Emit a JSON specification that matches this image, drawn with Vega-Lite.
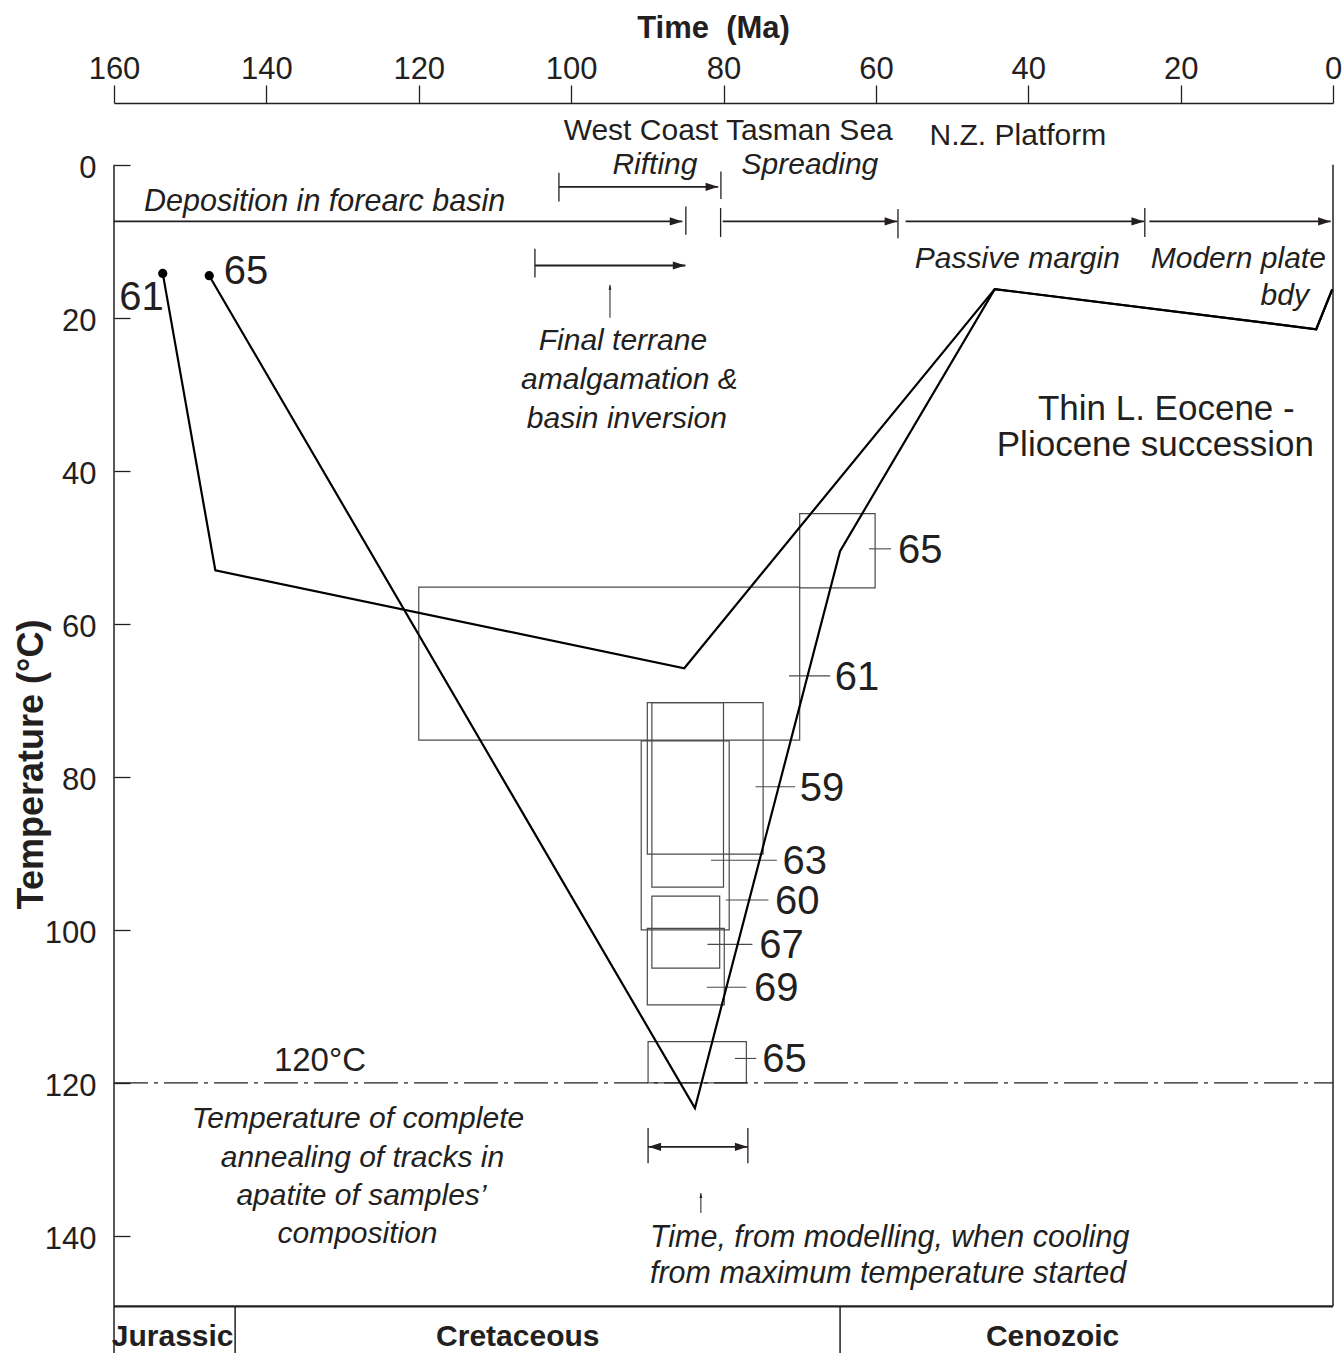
{
 "$schema": "https://vega.github.io/schema/vega-lite/v6.json",
 "width": 1219,
 "height": 1250,
 "autosize": {"type": "none"},
 "padding": {"left": 114, "top": 103, "right": 9, "bottom": 0},
 "background": "white",
 "config": {"view": {"stroke": null}, "axis": {"grid": false}},
 "datasets": {
  "boxes": [
   {"id": "65a", "t1": 70, "t2": 60.1, "T1": 45.6, "T2": 55.3},
   {"id": "61", "t1": 120, "t2": 70, "T1": 55.2, "T2": 75.2},
   {"id": "59", "t1": 90, "t2": 74.8, "T1": 70.3, "T2": 90.1},
   {"id": "63", "t1": 89.4, "t2": 80, "T1": 70.3, "T2": 94.4},
   {"id": "60", "t1": 90.8, "t2": 79.25, "T1": 75.3, "T2": 100},
   {"id": "67", "t1": 89.4, "t2": 80.5, "T1": 95.6, "T2": 105},
   {"id": "69", "t1": 90, "t2": 79.9, "T1": 99.8, "T2": 109.8},
   {"id": "65b", "t1": 89.9, "t2": 77, "T1": 114.6, "T2": 120}
  ],
  "leaders": [
   {"t1": 60.9, "t2": 58.0, "T": 50.2},
   {"t1": 71.4, "t2": 66.0, "T": 66.8},
   {"t1": 75.8, "t2": 70.6, "T": 81.3},
   {"t1": 81.65, "t2": 73.0, "T": 90.9},
   {"t1": 79.7, "t2": 74.1, "T": 96.1},
   {"t1": 82.1, "t2": 76.2, "T": 101.9},
   {"t1": 82.2, "t2": 77.0, "T": 107.5},
   {"t1": 78.5, "t2": 75.7, "T": 116.8}
  ],
  "boxlabels": [
   {"label": "65", "t": 57.1, "T": 50.2},
   {"label": "61", "t": 65.4, "T": 66.8},
   {"label": "59", "t": 70.0, "T": 81.3},
   {"label": "63", "t": 72.25, "T": 90.9},
   {"label": "60", "t": 73.25, "T": 96.1},
   {"label": "67", "t": 75.3, "T": 101.9},
   {"label": "69", "t": 76.0, "T": 107.5},
   {"label": "65", "t": 74.9, "T": 116.8},
   {"label": "61", "t": 159.3, "T": 17.1},
   {"label": "65", "t": 145.6, "T": 13.7}
  ],
  "paths": [
   {"s": "61", "o": 1, "t": 153.6, "T": 14.2},
   {"s": "61", "o": 2, "t": 146.7, "T": 53.0},
   {"s": "61", "o": 3, "t": 85.15, "T": 65.8},
   {"s": "61", "o": 4, "t": 44.4, "T": 16.25},
   {"s": "61", "o": 5, "t": 2.2, "T": 21.5},
   {"s": "61", "o": 6, "t": 0.1, "T": 16.3},
   {"s": "65", "o": 1, "t": 147.5, "T": 14.5},
   {"s": "65", "o": 2, "t": 83.75, "T": 123.3},
   {"s": "65", "o": 3, "t": 64.7, "T": 50.5},
   {"s": "65", "o": 4, "t": 44.4, "T": 16.25},
   {"s": "65", "o": 5, "t": 2.2, "T": 21.5},
   {"s": "65", "o": 6, "t": 0.1, "T": 16.3}
  ],
  "dots": [
   {"t": 153.6, "T": 14.2},
   {"t": 147.5, "T": 14.5}
  ],
  "hlines": [
   {"t1": 160, "t2": 85.4, "T": 7.41},
   {"t1": 80.1, "t2": 57.2, "T": 7.41},
   {"t1": 56.1, "t2": 24.8, "T": 7.41},
   {"t1": 24.1, "t2": 0.3, "T": 7.41},
   {"t1": 101.6, "t2": 80.7, "T": 2.88},
   {"t1": 104.75, "t2": 85.0, "T": 13.17},
   {"t1": 89.9, "t2": 76.8, "T": 128.35}
  ],
  "heads": [
   {"t": 85.4, "T": 7.41, "d": "r"},
   {"t": 57.2, "T": 7.41, "d": "r"},
   {"t": 24.8, "T": 7.41, "d": "r"},
   {"t": 0.3, "T": 7.41, "d": "r"},
   {"t": 80.7, "T": 2.88, "d": "r"},
   {"t": 85.0, "T": 13.17, "d": "r"},
   {"t": 89.85, "T": 128.35, "d": "l"},
   {"t": 76.85, "T": 128.35, "d": "r"}
  ],
  "bars": [
   {"t": 84.94, "T1": 5.45, "T2": 9.15},
   {"t": 80.38, "T1": 5.66, "T2": 9.45},
   {"t": 57.1, "T1": 5.8, "T2": 9.6},
   {"t": 24.7, "T1": 5.66, "T2": 9.45},
   {"t": 101.6, "T1": 1.05, "T2": 4.8},
   {"t": 80.34, "T1": 0.88, "T2": 4.48},
   {"t": 104.75, "T1": 10.98, "T2": 14.74},
   {"t": 89.9, "T1": 125.9, "T2": 130.5},
   {"t": 76.8, "T1": 125.9, "T2": 130.5}
  ],
  "uplines": [
   {"t": 94.9, "T1": 15.7, "T2": 20.0},
   {"t": 82.97, "T1": 134.4, "T2": 137.0}
  ],
  "frameV": [
   {"t": 160, "T1": 0, "T2": 155.3},
   {"t": 0, "T1": 0, "T2": 149.2},
   {"t": 144.1, "T1": 149.2, "T2": 155.3},
   {"t": 64.7, "T1": 149.2, "T2": 155.3}
  ],
  "txtA": [
   {"text": "West Coast", "t": 90.84, "T": -3.27},
   {"text": "Tasman Sea", "t": 68.73, "T": -3.27},
   {"text": "N.Z. Platform", "t": 41.36, "T": -2.52}
  ],
  "txtB": [
   {"text": "Rifting", "t": 89.0, "T": 1.18},
   {"text": "Spreading", "t": 68.66, "T": 1.18}
  ],
  "txtC": [
   {"text": "Deposition in forearc basin", "t": 156.06, "T": 6.1},
   {"text": "Time, from modelling, when cooling", "t": 89.66, "T": 141.4},
   {"text": "from maximum temperature started", "t": 89.66, "T": 146.2}
  ],
  "txtD": [
   {"text": "Passive margin", "t": 41.43, "T": 13.5},
   {"text": "Modern plate", "t": 12.43, "T": 13.5},
   {"text": "bdy", "t": 6.33, "T": 18.3},
   {"text": "Final terrane", "t": 93.2, "T": 24.19},
   {"text": "amalgamation &", "t": 92.35, "T": 29.29},
   {"text": "basin inversion", "t": 92.68, "T": 34.39},
   {"text": "Temperature of complete", "t": 127.98, "T": 125.9},
   {"text": "annealing of tracks in", "t": 127.39, "T": 131.0},
   {"text": "apatite of samples’", "t": 127.52, "T": 136.0},
   {"text": "composition", "t": 128.04, "T": 140.95}
  ],
  "txtE": [
   {"text": "Thin L. Eocene -", "t": 21.88, "T": 33.41},
   {"text": "Pliocene succession", "t": 23.32, "T": 38.05}
  ],
  "txtF": [
   {"text": "120°C", "t": 132.97, "T": 118.4}
  ],
  "txtH": [
   {"text": "Jurassic", "t": 152.3, "T": 154.4},
   {"text": "Cretaceous", "t": 107, "T": 154.4},
   {"text": "Cenozoic", "t": 36.8, "T": 154.4}
  ]
 },
 "layer": [
  {
   "data": {"name": "boxes"},
   "mark": {"type": "rect", "fillOpacity": 0, "stroke": "#4a4a4a", "strokeWidth": 1.2},
   "encoding": {
    "x": {"field": "t1", "type": "quantitative", "scale": {"domain": [0, 160], "reverse": true, "nice": false, "zero": false},
     "axis": {"orient": "top", "values": [160, 140, 120, 100, 80, 60, 40, 20, 0], "format": "d",
      "title": "Time \u00a0(Ma)", "titleFont": "Liberation Sans", "titleFontSize": 31, "titleFontWeight": "bold", "titleColor": "#231f20",
      "titleX": 599, "titleY": -66, "titleAlign": "center", "titleBaseline": "alphabetic", "titleAngle": 0,
      "labelFont": "Liberation Sans", "labelFontSize": 31, "labelColor": "#231f20", "labelFlush": false, "labelOverlap": false,
      "labelBaseline": "alphabetic", "labelPadding": 7, "tickSize": 18, "tickColor": "#231f20", "tickWidth": 1.3,
      "domain": true, "domainColor": "#231f20", "domainWidth": 1.5, "grid": false}},
    "x2": {"field": "t2"},
    "y": {"field": "T1", "type": "quantitative", "scale": {"domain": [-8.07, 155.3], "reverse": true, "nice": false, "zero": false},
     "axis": {"orient": "left", "values": [0, 20, 40, 60, 80, 100, 120, 140], "format": "d",
      "title": "Temperature (°C)", "titleFont": "Liberation Sans", "titleFontSize": 36, "titleFontWeight": "bold", "titleColor": "#231f20",
      "titleX": -72, "titleY": 661, "titleAngle": -90, "titleAlign": "center", "titleBaseline": "alphabetic",
      "labelFont": "Liberation Sans", "labelFontSize": 31, "labelColor": "#231f20", "labelFlush": false, "labelOverlap": false,
      "labelBaseline": "middle", "labelOffset": 4, "labelPadding": 34, "tickSize": -16, "tickColor": "#231f20", "tickWidth": 1.3,
      "domain": false, "grid": false}},
    "y2": {"field": "T2"}
   }
  },
  {
   "data": {"name": "leaders"},
   "mark": {"type": "rule", "stroke": "#4a4a4a", "strokeWidth": 1.1},
   "encoding": {
    "x": {"field": "t1", "type": "quantitative", "scale": {"domain": [0, 160], "reverse": true, "nice": false, "zero": false}},
    "x2": {"field": "t2"},
    "y": {"field": "T", "type": "quantitative", "scale": {"domain": [-8.07, 155.3], "reverse": true, "nice": false, "zero": false}}
   }
  },
  {
   "data": {"values": [{"t1": 160, "t2": 0, "T": 120}]},
   "mark": {"type": "rule", "stroke": "#231f20", "strokeWidth": 1.4, "strokeDash": [34, 6, 4, 6]},
   "encoding": {
    "x": {"field": "t1", "type": "quantitative", "scale": {"domain": [0, 160], "reverse": true, "nice": false, "zero": false}},
    "x2": {"field": "t2"},
    "y": {"field": "T", "type": "quantitative", "scale": {"domain": [-8.07, 155.3], "reverse": true, "nice": false, "zero": false}}
   }
  },
  {
   "data": {"name": "frameV"},
   "mark": {"type": "rule", "stroke": "#231f20", "strokeWidth": 1.5},
   "encoding": {
    "x": {"field": "t", "type": "quantitative", "scale": {"domain": [0, 160], "reverse": true, "nice": false, "zero": false}},
    "y": {"field": "T1", "type": "quantitative", "scale": {"domain": [-8.07, 155.3], "reverse": true, "nice": false, "zero": false}},
    "y2": {"field": "T2"}
   }
  },
  {
   "data": {"values": [{"t1": 160, "t2": 0, "T": 149.2}]},
   "mark": {"type": "rule", "stroke": "#231f20", "strokeWidth": 2.2},
   "encoding": {
    "x": {"field": "t1", "type": "quantitative", "scale": {"domain": [0, 160], "reverse": true, "nice": false, "zero": false}},
    "x2": {"field": "t2"},
    "y": {"field": "T", "type": "quantitative", "scale": {"domain": [-8.07, 155.3], "reverse": true, "nice": false, "zero": false}}
   }
  },
  {
   "data": {"name": "paths"},
   "mark": {"type": "line", "color": "#000000", "strokeWidth": 2.2, "strokeJoin": "miter"},
   "encoding": {
    "x": {"field": "t", "type": "quantitative", "scale": {"domain": [0, 160], "reverse": true, "nice": false, "zero": false}},
    "y": {"field": "T", "type": "quantitative", "scale": {"domain": [-8.07, 155.3], "reverse": true, "nice": false, "zero": false}},
    "detail": {"field": "s", "type": "nominal"},
    "order": {"field": "o", "type": "quantitative"}
   }
  },
  {
   "data": {"name": "dots"},
   "mark": {"type": "point", "shape": "circle", "filled": true, "color": "#000000", "opacity": 1, "size": 85},
   "encoding": {
    "x": {"field": "t", "type": "quantitative", "scale": {"domain": [0, 160], "reverse": true, "nice": false, "zero": false}},
    "y": {"field": "T", "type": "quantitative", "scale": {"domain": [-8.07, 155.3], "reverse": true, "nice": false, "zero": false}}
   }
  },
  {
   "data": {"name": "hlines"},
   "mark": {"type": "rule", "stroke": "#231f20", "strokeWidth": 1.8},
   "encoding": {
    "x": {"field": "t1", "type": "quantitative", "scale": {"domain": [0, 160], "reverse": true, "nice": false, "zero": false}},
    "x2": {"field": "t2"},
    "y": {"field": "T", "type": "quantitative", "scale": {"domain": [-8.07, 155.3], "reverse": true, "nice": false, "zero": false}}
   }
  },
  {
   "data": {"name": "bars"},
   "mark": {"type": "rule", "stroke": "#231f20", "strokeWidth": 1.3},
   "encoding": {
    "x": {"field": "t", "type": "quantitative", "scale": {"domain": [0, 160], "reverse": true, "nice": false, "zero": false}},
    "y": {"field": "T1", "type": "quantitative", "scale": {"domain": [-8.07, 155.3], "reverse": true, "nice": false, "zero": false}},
    "y2": {"field": "T2"}
   }
  },
  {
   "data": {"name": "heads"},
   "mark": {"type": "point", "filled": true, "color": "#231f20", "opacity": 1, "size": 159, "strokeWidth": 0},
   "encoding": {
    "x": {"field": "t", "type": "quantitative", "scale": {"domain": [0, 160], "reverse": true, "nice": false, "zero": false}},
    "y": {"field": "T", "type": "quantitative", "scale": {"domain": [-8.07, 155.3], "reverse": true, "nice": false, "zero": false}},
    "shape": {"field": "d", "type": "nominal", "scale": {"domain": ["r", "l"], "range": ["M0,0L-2,-0.65L-2,0.65Z", "M0,0L2,-0.65L2,0.65Z"]}, "legend": null}
   }
  },
  {
   "data": {"name": "uplines"},
   "mark": {"type": "rule", "stroke": "#231f20", "strokeWidth": 1},
   "encoding": {
    "x": {"field": "t", "type": "quantitative", "scale": {"domain": [0, 160], "reverse": true, "nice": false, "zero": false}},
    "y": {"field": "T1", "type": "quantitative", "scale": {"domain": [-8.07, 155.3], "reverse": true, "nice": false, "zero": false}},
    "y2": {"field": "T2"}
   }
  },
  {
   "data": {"name": "uplines"},
   "mark": {"type": "point", "filled": true, "color": "#231f20", "opacity": 1, "size": 38, "strokeWidth": 0, "shape": "M0,0L-0.45,1.6L0.45,1.6Z"},
   "encoding": {
    "x": {"field": "t", "type": "quantitative", "scale": {"domain": [0, 160], "reverse": true, "nice": false, "zero": false}},
    "y": {"field": "T1", "type": "quantitative", "scale": {"domain": [-8.07, 155.3], "reverse": true, "nice": false, "zero": false}}
   }
  },
  {
   "data": {"name": "txtA"},
   "mark": {"type": "text", "font": "Liberation Sans", "fontSize": 30, "align": "center", "baseline": "alphabetic", "color": "#231f20"},
   "encoding": {
    "x": {"field": "t", "type": "quantitative", "scale": {"domain": [0, 160], "reverse": true, "nice": false, "zero": false}},
    "y": {"field": "T", "type": "quantitative", "scale": {"domain": [-8.07, 155.3], "reverse": true, "nice": false, "zero": false}},
    "text": {"field": "text"}
   }
  },
  {
   "data": {"name": "txtB"},
   "mark": {"type": "text", "font": "Liberation Sans", "fontSize": 30, "fontStyle": "italic", "align": "center", "baseline": "alphabetic", "color": "#231f20"},
   "encoding": {
    "x": {"field": "t", "type": "quantitative", "scale": {"domain": [0, 160], "reverse": true, "nice": false, "zero": false}},
    "y": {"field": "T", "type": "quantitative", "scale": {"domain": [-8.07, 155.3], "reverse": true, "nice": false, "zero": false}},
    "text": {"field": "text"}
   }
  },
  {
   "data": {"name": "txtC"},
   "mark": {"type": "text", "font": "Liberation Sans", "fontSize": 30.5, "fontStyle": "italic", "align": "left", "baseline": "alphabetic", "color": "#231f20"},
   "encoding": {
    "x": {"field": "t", "type": "quantitative", "scale": {"domain": [0, 160], "reverse": true, "nice": false, "zero": false}},
    "y": {"field": "T", "type": "quantitative", "scale": {"domain": [-8.07, 155.3], "reverse": true, "nice": false, "zero": false}},
    "text": {"field": "text"}
   }
  },
  {
   "data": {"name": "txtD"},
   "mark": {"type": "text", "font": "Liberation Sans", "fontSize": 30, "fontStyle": "italic", "align": "center", "baseline": "alphabetic", "color": "#231f20"},
   "encoding": {
    "x": {"field": "t", "type": "quantitative", "scale": {"domain": [0, 160], "reverse": true, "nice": false, "zero": false}},
    "y": {"field": "T", "type": "quantitative", "scale": {"domain": [-8.07, 155.3], "reverse": true, "nice": false, "zero": false}},
    "text": {"field": "text"}
   }
  },
  {
   "data": {"name": "txtE"},
   "mark": {"type": "text", "font": "Liberation Sans", "fontSize": 35, "align": "center", "baseline": "alphabetic", "color": "#231f20"},
   "encoding": {
    "x": {"field": "t", "type": "quantitative", "scale": {"domain": [0, 160], "reverse": true, "nice": false, "zero": false}},
    "y": {"field": "T", "type": "quantitative", "scale": {"domain": [-8.07, 155.3], "reverse": true, "nice": false, "zero": false}},
    "text": {"field": "text"}
   }
  },
  {
   "data": {"name": "txtF"},
   "mark": {"type": "text", "font": "Liberation Sans", "fontSize": 33, "align": "center", "baseline": "alphabetic", "color": "#231f20"},
   "encoding": {
    "x": {"field": "t", "type": "quantitative", "scale": {"domain": [0, 160], "reverse": true, "nice": false, "zero": false}},
    "y": {"field": "T", "type": "quantitative", "scale": {"domain": [-8.07, 155.3], "reverse": true, "nice": false, "zero": false}},
    "text": {"field": "text"}
   }
  },
  {
   "data": {"name": "boxlabels"},
   "mark": {"type": "text", "font": "Liberation Sans", "fontSize": 40, "align": "left", "baseline": "middle", "dy": 2, "color": "#231f20"},
   "encoding": {
    "x": {"field": "t", "type": "quantitative", "scale": {"domain": [0, 160], "reverse": true, "nice": false, "zero": false}},
    "y": {"field": "T", "type": "quantitative", "scale": {"domain": [-8.07, 155.3], "reverse": true, "nice": false, "zero": false}},
    "text": {"field": "label"}
   }
  },
  {
   "data": {"name": "txtH"},
   "mark": {"type": "text", "font": "Liberation Sans", "fontSize": 30, "fontWeight": "bold", "align": "center", "baseline": "alphabetic", "color": "#231f20"},
   "encoding": {
    "x": {"field": "t", "type": "quantitative", "scale": {"domain": [0, 160], "reverse": true, "nice": false, "zero": false}},
    "y": {"field": "T", "type": "quantitative", "scale": {"domain": [-8.07, 155.3], "reverse": true, "nice": false, "zero": false}},
    "text": {"field": "text"}
   }
  }
 ]
}
